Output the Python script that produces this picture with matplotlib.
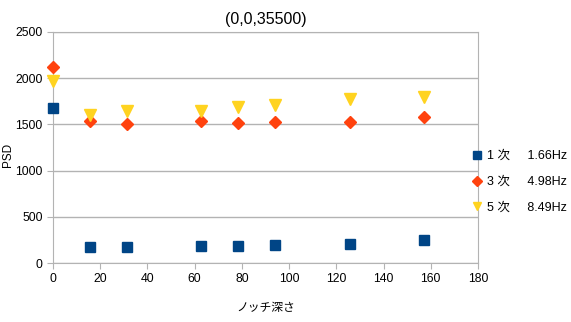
import numpy as np
import matplotlib.pyplot as plt

plt.rcParams['font.family'] = ['Liberation Sans', 'Noto Sans CJK JP', 'DejaVu Sans']

depth = [0, 15.7, 31.4, 62.8, 78.5, 94.2, 125.6, 157]
psd1 = [1675, 175, 178, 185, 185, 192, 210, 246]
psd3 = [2125, 1538, 1506, 1538, 1517, 1524, 1531, 1585]
psd5 = [1975, 1597, 1640, 1640, 1683, 1715, 1779, 1797]
labels = ['1 次     1.66Hz', '3 次     4.98Hz', '5 次     8.49Hz']

fig = plt.figure(figsize=(5.71, 3.22), dpi=100)
ax = fig.add_axes([53 / 571, 1 - 263 / 322, 425 / 571, 231 / 322])

ax.plot(depth, psd1, ls='none', marker='s', ms=7.5, color='#004586', label=labels[0], clip_on=False, zorder=3)
ax.plot(depth, psd3, ls='none', marker='D', ms=6, color='#ff420e', label=labels[1], clip_on=False, zorder=3)
ax.plot(depth, psd5, ls='none', marker='v', ms=8, color='#ffd320', label=labels[2], clip_on=False, zorder=3)

ax.set_xlim(0, 180)
ax.set_ylim(0, 2500)
ax.set_xticks(np.arange(0, 181, 20))
ax.set_yticks(np.arange(0, 2501, 500))
ax.yaxis.grid(True, color='#b3b3b3', lw=1)
ax.set_axisbelow(True)
for s in ax.spines.values():
    s.set_color('#b3b3b3')
ax.tick_params(axis='both', colors='#b3b3b3', labelcolor='black', labelsize=8.8, length=4)

ax.set_title('(0,0,35500)', fontsize=11.5, pad=6)
ax.set_xlabel('ノッチ深さ', fontsize=8.5, labelpad=12)
fig.text(8 / 571, 1 - 155 / 322, 'PSD', rotation=90, fontsize=8.5, ha='center', va='center')

fig.legend(loc='center left', bbox_to_anchor=(471 / 571, 1 - 182 / 322), frameon=False, fontsize=9,
           handletextpad=0.3, handlelength=1.0, labelspacing=1.1, borderaxespad=0, borderpad=0,
           markerscale=0.8)

fig.savefig('out.png', dpi=100)
